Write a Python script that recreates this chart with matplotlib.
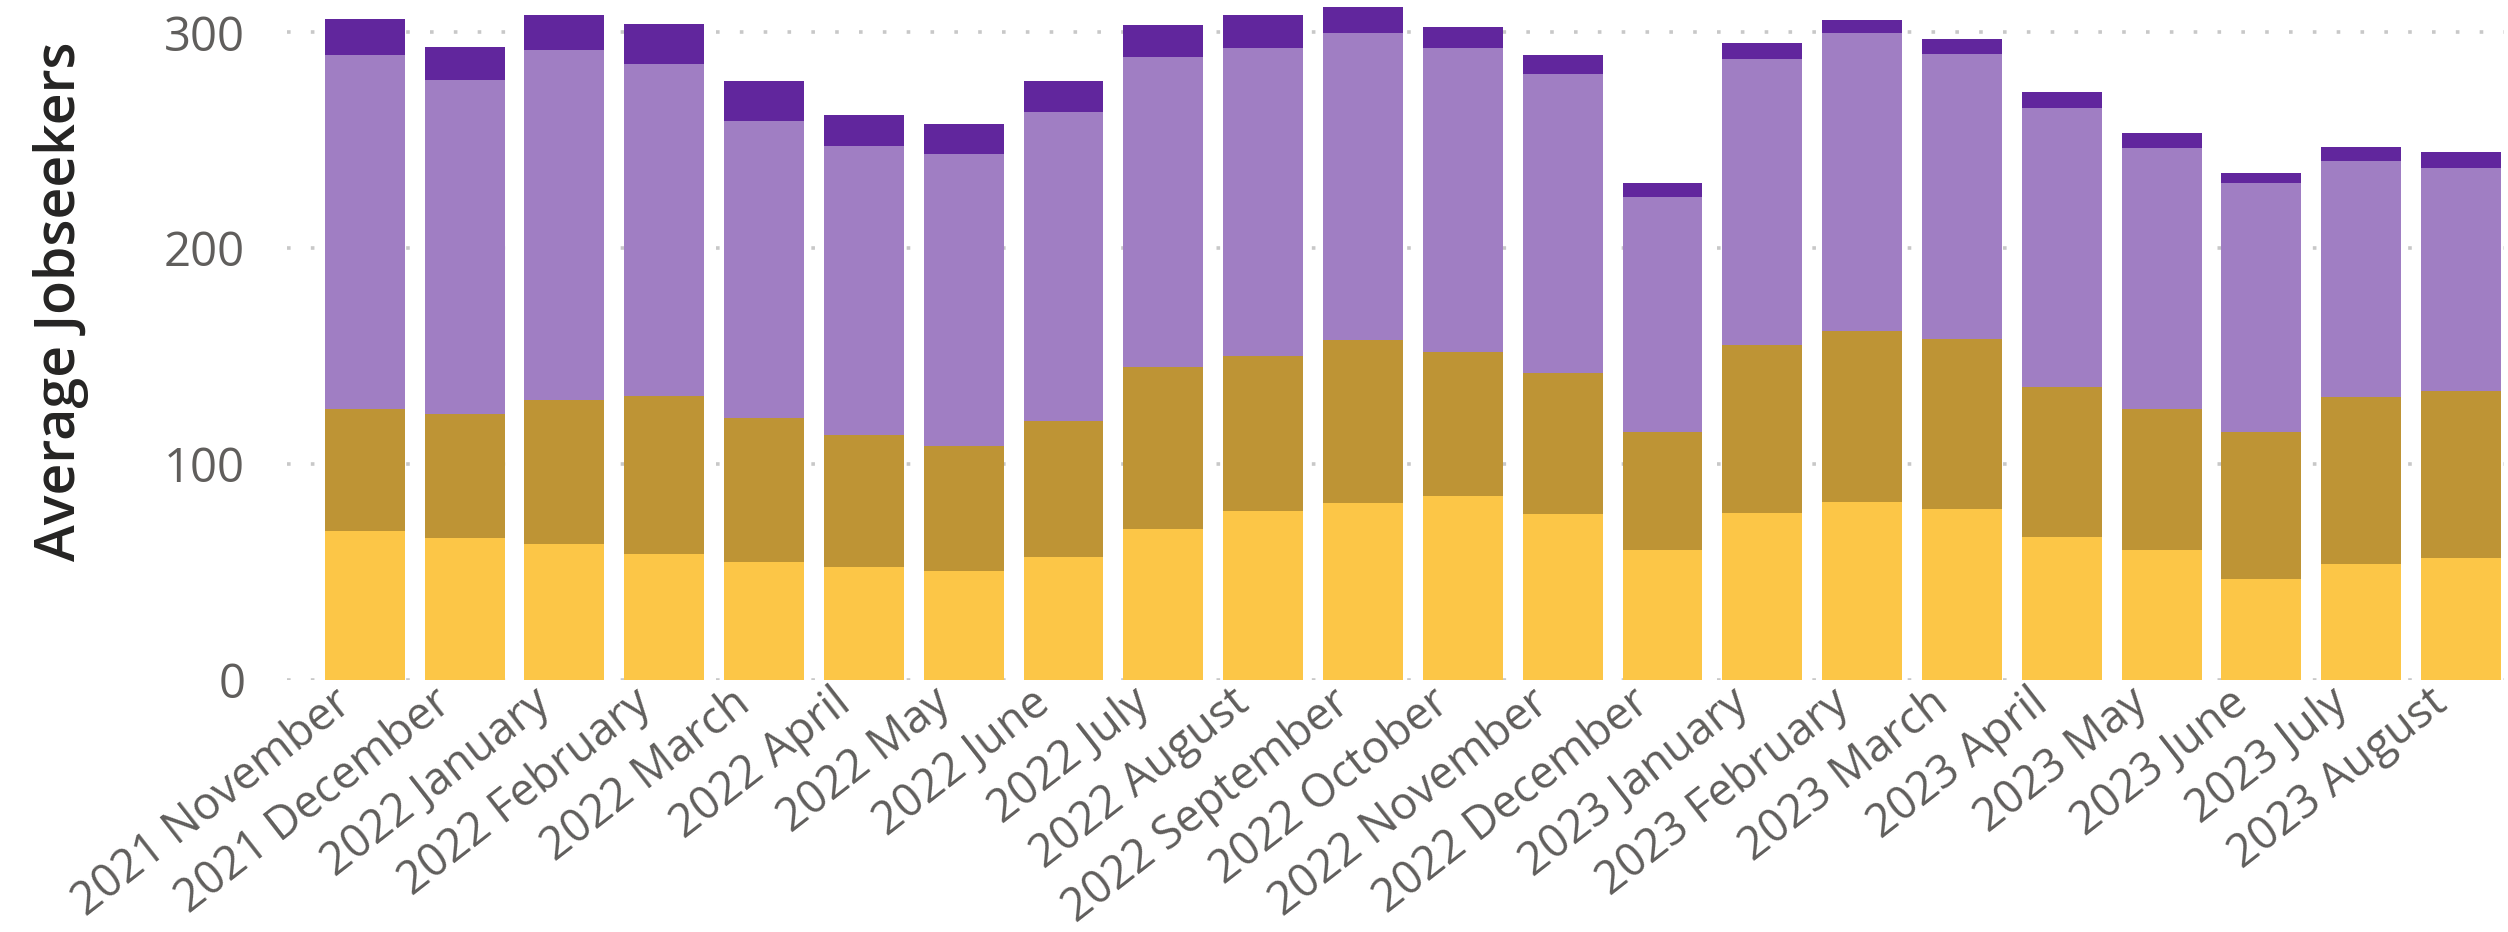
import matplotlib
matplotlib.use("Agg")
import matplotlib.pyplot as plt
import matplotlib.transforms as mtrans
import numpy as np

# datos
meses = ["2021 November", "2021 December", "2022 January", "2022 February", "2022 March",
         "2022 April", "2022 May", "2022 June", "2022 July", "2022 August",
         "2022 September", "2022 October", "2022 November", "2022 December",
         "2023 January", "2023 February", "2023 March", "2023 April", "2023 May",
         "2023 June", "2023 July", "2023 August"]

serie_amarilla = [68.9, 65.8, 62.9, 58.3, 54.6, 52.3, 50.5, 56.9, 69.9, 78.2, 81.9,
                  85.2, 76.8, 60.2, 77.2, 82.4, 79.0, 66.2, 60.2, 47.0, 53.6, 56.5]
serie_ocre = [56.7, 57.3, 66.8, 73.1, 66.9, 61.3, 57.9, 63.1, 75.1, 71.8, 75.6,
              66.7, 65.3, 54.6, 77.8, 79.2, 78.9, 69.7, 65.4, 67.8, 77.4, 77.4]
serie_lila = [164.1, 155.0, 162.3, 153.9, 137.5, 133.9, 135.3, 143.2, 143.6, 142.8, 142.3,
              140.9, 138.7, 108.9, 132.8, 138.2, 132.2, 129.1, 120.8, 115.5, 109.4, 103.4]
serie_morada = [16.5, 15.3, 16.1, 18.7, 18.7, 14.2, 13.9, 14.5, 14.9, 15.3, 12.0,
                9.9, 8.5, 6.6, 7.5, 6.0, 7.0, 7.5, 7.1, 4.5, 6.7, 7.5]

colores = ["#FCC647", "#BE9435", "#A07EC3", "#61269D"]
series = [serie_amarilla, serie_ocre, serie_lila, serie_morada]

plt.rcParams['font.family'] = ['Open Sans', 'DejaVu Sans']

fig = plt.figure(figsize=(25.08, 9.32), dpi=100)
ax = fig.add_axes([0.1144, 0.2704, 0.884, 0.7296])

x = np.arange(len(meses))
base = np.zeros(len(meses))
for s, c in zip(series, colores):
    ax.bar(x, s, width=0.8, bottom=base, color=c, zorder=3)
    base = base + np.array(s)

ax.set_xlim(-0.78, 21.43)
ax.set_ylim(0, 315)
ax.set_yticks([0, 100, 200, 300])

# rejilla punteada
ax.grid(axis='y', color='#C8C8C8', linewidth=2.6, linestyle=(0, (1, 5.6)), zorder=1)
for sp in ax.spines.values():
    sp.set_visible(False)

ax.tick_params(axis='y', length=0, pad=30, labelsize=34, labelcolor='#605E5C')
ax.tick_params(axis='x', length=0, pad=0, labelsize=32.8, labelcolor='#605E5C')

ax.set_xticks(x)
ax.set_xticklabels(meses, rotation=38, ha='right', va='top', rotation_mode='anchor')
desplaza = mtrans.ScaledTranslation(-33 / 100, 0, fig.dpi_scale_trans)
for lab in ax.get_xticklabels():
    lab.set_transform(lab.get_transform() + desplaza)

ax.set_ylabel("Average Jobseekers", fontsize=40, color='#252423', va='center',
              fontweight='semibold')
ax.yaxis.set_label_coords(-0.102, 0.557)

fig.savefig("out.png", dpi=100)
